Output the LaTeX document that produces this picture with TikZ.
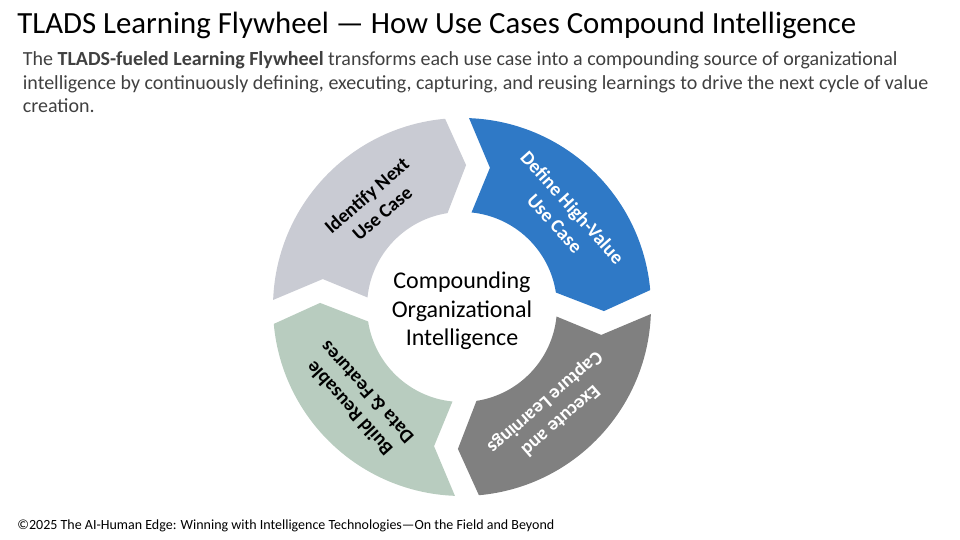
\documentclass[tikz,border=0pt]{standalone}
\usepackage{fontspec}
\setmainfont{Carlito}
\definecolor{idgrey}{HTML}{C9CBD3}
\definecolor{defblue}{HTML}{2F79C6}
\definecolor{exgrey}{HTML}{808080}
\definecolor{buildgreen}{HTML}{B8CCBF}
\definecolor{introtext}{HTML}{404040}
\begin{document}
\begin{tikzpicture}[x=0.5pt,y=0.5pt,
  steplabel/.style={align=center, inner sep=0pt, font=\fontsize{9.7}{11.8}\selectfont\bfseries}]
\useasboundingbox (0,0) rectangle (960,540);
\node[anchor=base west, inner sep=0pt, font=\fontsize{15.4}{18}\selectfont] (title) at (17,506.7) {TLADS Learning Flywheel — How Use Cases Compound Intelligence};
\node[anchor=base west, inner sep=0pt, align=left, text=introtext, font=\fontsize{10}{11.75}\selectfont] (intro) at (22.5,427) {The \textbf{TLADS-fueled Learning Flywheel} transforms each use case into a compounding source of organizational\\intelligence by continuously defining, executing, capturing, and reusing learnings to drive the next cycle of value\\creation.};
\begin{scope}[shift={(462,233)}]
\fill[idgrey] (177.86:189) arc[start angle=177.86, end angle=95.14, radius=189] -- (88.35:142) -- (98.76:95) arc[start angle=98.76, end angle=174.24, radius=95] -- (168.65:142) -- cycle;
\fill[defblue] (87.86:189) arc[start angle=87.86, end angle=5.14, radius=189] -- (-1.65:142) -- (8.76:95) arc[start angle=8.76, end angle=84.24, radius=95] -- (78.65:142) -- cycle;
\fill[exgrey] (-2.14:189) arc[start angle=-2.14, end angle=-84.86, radius=189] -- (-91.65:142) -- (-81.24:95) arc[start angle=-81.24, end angle=-5.76, radius=95] -- (-11.35:142) -- cycle;
\fill[buildgreen] (267.86:189) arc[start angle=267.86, end angle=185.14, radius=189] -- (178.35:142) -- (188.76:95) arc[start angle=188.76, end angle=264.24, radius=95] -- (258.65:142) -- cycle;
\node[steplabel, rotate=41] (identify) at (130.5:135) {Identify Next\\Use Case};
\node[steplabel, rotate=-48, text=white] (define) at (42:137) {Define High-Value\\Use Case};
\node[steplabel, rotate=-139, text=white] (execute) at (-49:138) {Execute and\\Capture Learnings};
\node[steplabel, rotate=132] (build) at (222:140) {Build Reusable\\Data \& Features};
\node[align=center, font=\fontsize{12}{14.25}\selectfont] (hub) at (0,-4) {Compounding\\Organizational\\Intelligence};
\end{scope}
\node[anchor=base west, inner sep=0pt, font=\fontsize{7}{8.5}\selectfont] (credit) at (17,10) {©2025 The AI-Human Edge: Winning with Intelligence Technologies—On the Field and Beyond};
\end{tikzpicture}
\end{document}
